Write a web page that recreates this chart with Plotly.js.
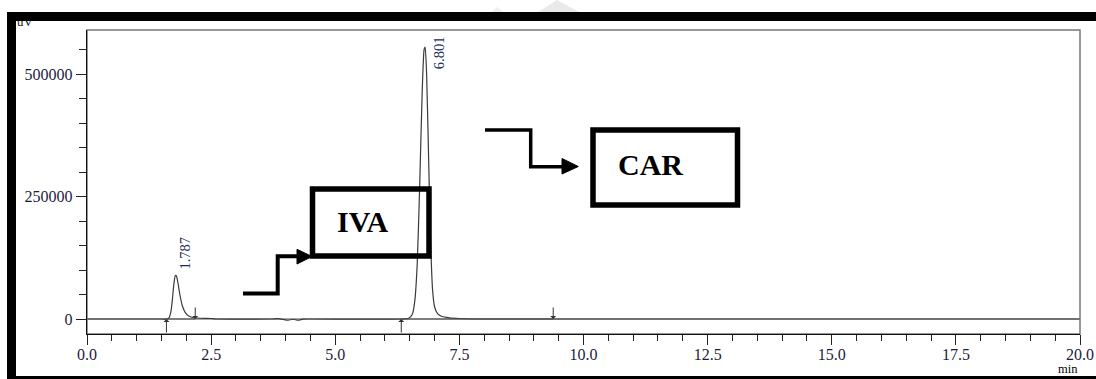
<!DOCTYPE html>
<html>
<head>
<meta charset="utf-8">
<script src="https://cdn.plot.ly/plotly-3.0.1.min.js"></script>
<style>
  html, body { margin: 0; padding: 0; background: #fff; }
  #wrap { position: relative; width: 1096px; height: 379px; overflow: hidden; }
  #chart { position: absolute; left: 0; top: 0; width: 1096px; height: 379px; }
  .bar { position: absolute; background: #000; z-index: 10; }
  #uv { position: absolute; left: 17px; top: 14px; font: 13px "Liberation Serif", serif; color: #111; z-index: 5; }
  #wm { position: absolute; left: 0; top: 0; z-index: 4; }
</style>
</head>
<body>
<div id="wrap">
  <div id="chart"></div>
  <svg id="wm" width="1096" height="14"><polygon points="538,12 557,0 579,12" fill="#e9e9e9"/><polygon points="492,12 497,7 503,12" fill="#eeeeee"/></svg>
  <div id="uv">uV</div>
  <div class="bar" style="left:7px;top:12px;width:1089px;height:9px;"></div>
  <div class="bar" style="left:7px;top:12px;width:9px;height:367px;"></div>
  <div class="bar" style="left:7px;top:376px;width:1089px;height:3px;"></div>
</div>
<script>
// Chromatogram points (time in min, signal in uV)
const timeMin = [0, 1.50, 1.60, 1.65, 1.69, 1.72, 1.75, 1.78, 1.80, 1.83, 1.87, 1.92, 1.98, 2.05, 2.15, 2.30, 2.50, 2.60,
  3.70, 3.85, 3.95, 4.05, 4.15, 4.25, 4.35, 4.45,
  6.35, 6.48, 6.55, 6.60, 6.65, 6.70, 6.75, 6.79, 6.81, 6.84, 6.88, 6.92, 6.96, 7.00, 7.06, 7.15, 7.30, 7.50, 7.80, 20.0];
const signalUV = [0, 0, 0, 2000, 15000, 40000, 72000, 89000, 88000, 75000, 50000, 27000, 13000, 6000, 2500, 1500, 1000, 0,
  0, 800, -1000, -2500, -500, -2500, -300, 0,
  0, 1500, 9000, 35000, 110000, 270000, 460000, 550000, 555000, 500000, 330000, 160000, 60000, 25000, 11000, 5000, 2500, 1000, 0, 0];

const peakTimes = [1.787, 6.801];
const peakHeights = [89000, 555000];
const peakLabels = ['1.787', '6.801'];

const intStart = [1.60, 6.33];
const intEnd = [2.18, 9.39];

const xTickStep = 2.5;
const yTickStep = 250000;

const compoundLabels = ['IVA', 'CAR'];

// pixel helpers for decorative callouts (converted to data units)
const X0 = 87, PXU = 49.65, Y0 = 319, UPP = 2040.8;
const dx = p => (p - X0) / PXU;
const dy = p => (Y0 - p) * UPP;

const traces = [
  { x: [0, 20], y: [0, 0], mode: 'lines', line: { color: '#a8a8a8', width: 2.2 }, hoverinfo: 'skip' },
  { x: timeMin, y: signalUV, mode: 'lines', line: { color: '#3a3a3a', width: 1.2, shape: 'spline', smoothing: 0.6 }, hoverinfo: 'skip' }
];
for (let i = 0; i < intStart.length; i++) {
  traces.push({ x: [intStart[i], intEnd[i]], y: [0, 0], mode: 'lines', line: { color: '#555', width: 1 }, hoverinfo: 'skip' });
}

const tickFont = { family: '"Liberation Serif", "Times New Roman", serif', size: 16, color: '#1c1c3a' };

const annotations = [];
// peak labels
annotations.push({ x: peakTimes[0], y: peakHeights[0], text: peakLabels[0], textangle: -90, showarrow: false,
  xanchor: 'left', yanchor: 'bottom', xshift: -1, yshift: 4, font: { family: tickFont.family, size: 14.5, color: '#1c2a5a' } });
annotations.push({ x: peakTimes[1], y: 1, yref: 'paper', text: peakLabels[1], textangle: -90, showarrow: false,
  xanchor: 'left', yanchor: 'top', xshift: 4, yshift: -4, font: { family: tickFont.family, size: 14.5, color: '#1c2a5a' } });
// integration markers
for (let i = 0; i < intStart.length; i++) {
  annotations.push({ x: intStart[i], y: 0, text: '', showarrow: true, ax: 0, ay: 15, arrowhead: 1, arrowsize: 1, arrowwidth: 1, arrowcolor: '#333' });
  annotations.push({ x: intEnd[i], y: 0, text: '', showarrow: true, ax: 0, ay: -13, arrowhead: 1, arrowsize: 1, arrowwidth: 1, arrowcolor: '#333' });
}
// compound callouts text
const calloutFont = { family: '"Liberation Serif", "Times New Roman", serif', size: 30, color: '#000' };
annotations.push({ x: dx(362), y: dy(221), text: '<b>' + compoundLabels[0] + '</b>', showarrow: false, font: calloutFont });
annotations.push({ x: dx(650), y: dy(164), text: '<b>' + compoundLabels[1] + '</b>', showarrow: false, font: calloutFont });
// axis unit "min"
annotations.push({ xref: 'paper', yref: 'paper', x: (1068 - 87) / 993, y: (334 - 368.5) / 304, xanchor: 'center', yanchor: 'middle',
  text: 'min', showarrow: false, font: { family: tickFont.family, size: 12.5, color: '#000' } });

const P = (pts) => 'M ' + pts.map(p => dx(p[0]) + ' ' + dy(p[1])).join(' L ');
const shapes = [
  { type: 'rect', xref: 'paper', yref: 'paper', x0: 0, x1: 1, y0: 0, y1: 1, line: { color: '#777', width: 1.5 }, layer: 'below' },
  // IVA box + arrow
  { type: 'rect', x0: dx(312.5), x1: dx(429), y0: dy(189), y1: dy(256), line: { color: '#000', width: 5.5 } },
  { type: 'path', path: P([[243, 293.5], [277.7, 293.5], [277.7, 256.3], [298, 256.3]]), line: { color: '#000', width: 4 } },
  { type: 'path', path: P([[297, 249.3], [312, 256.5], [297, 264]]) + ' Z', fillcolor: '#000', line: { color: '#000', width: 1 } },
  // CAR box + arrow
  { type: 'rect', x0: dx(593), x1: dx(737.5), y0: dy(130), y1: dy(205), line: { color: '#000', width: 5.5 } },
  { type: 'path', path: P([[485, 130], [530.7, 130], [530.7, 166.7], [563, 166.7]]), line: { color: '#000', width: 3.5 } },
  { type: 'path', path: P([[562, 158.5], [578.3, 166.5], [562, 174]]) + ' Z', fillcolor: '#000', line: { color: '#000', width: 1 } }
];

const layout = {
  width: 1096, height: 379,
  margin: { l: 87, r: 16, t: 30, b: 45, pad: 0 },
  paper_bgcolor: '#fff', plot_bgcolor: '#fff',
  showlegend: false,
  xaxis: {
    range: [0, 20], tickmode: 'linear', tick0: 0, dtick: xTickStep, tickformat: '.1f',
    ticks: 'outside', ticklen: 10, tickwidth: 1, tickcolor: '#222', ticklabelstandoff: -4,
    minor: { dtick: 0.5, tick0: 0, ticks: 'outside', ticklen: 6, tickwidth: 1, tickcolor: '#222', showgrid: false },
    showgrid: false, zeroline: false, showline: true, linecolor: '#111', linewidth: 1.2,
    tickfont: tickFont, fixedrange: true
  },
  yaxis: {
    range: [-30612, 589796], tickmode: 'linear', tick0: 0, dtick: yTickStep, tickformat: 'd',
    ticks: 'outside', ticklen: 10, tickwidth: 1, tickcolor: '#222',
    minor: { dtick: 50000, tick0: 0, ticks: 'outside', ticklen: 7, tickwidth: 1, tickcolor: '#222', showgrid: false },
    showgrid: false, zeroline: false, showline: true, linecolor: '#111', linewidth: 1.2,
    tickfont: tickFont, fixedrange: true
  },
  annotations: annotations,
  shapes: shapes
};

Plotly.newPlot('chart', traces, layout, { displayModeBar: false, staticPlot: true });
</script>
</body>
</html>
